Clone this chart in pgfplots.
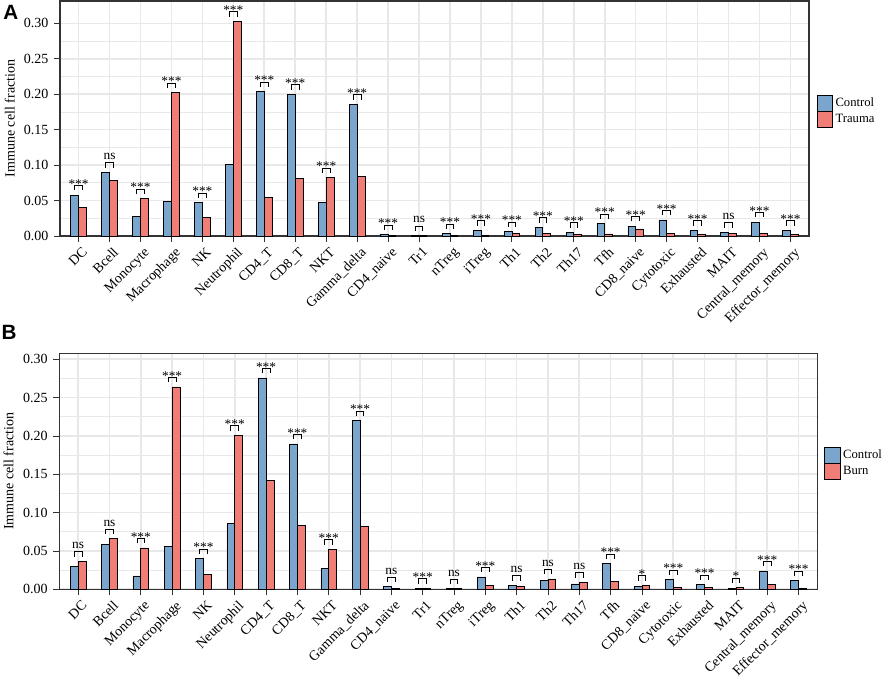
\documentclass[border=0pt]{standalone}
\usepackage{fontspec}
\setmainfont{Liberation Serif}
\newfontfamily\lsans{Liberation Sans}
\usepackage{pgfplots}
\usepackage{pgfplotstable}
\pgfplotsset{compat=1.18}
\definecolor{cblue}{RGB}{122,166,206}
\definecolor{cred}{RGB}{240,126,118}
\definecolor{gframe}{RGB}{51,51,51}
\definecolor{ggrid}{RGB}{232,232,232}
\newcommand\tfont{\fontsize{10.5}{12}\selectfont}
\newcommand\sfont{\fontsize{10}{12}\selectfont}
\newcommand\lfont{\fontsize{9.5}{11}\selectfont}
\protected\def\sss{\raisebox{-4.3pt}{***}}
\protected\def\sone{\raisebox{-4.3pt}{*}}
\protected\def\nsl{ns}
\pgfdeclareplotmark{brk}{%
 \pgfpathmoveto{\pgfpoint{-2.9pt}{3.4pt}}%
 \pgfpathlineto{\pgfpoint{-2.9pt}{7.1pt}}%
 \pgfpathlineto{\pgfpoint{2.9pt}{7.1pt}}%
 \pgfpathlineto{\pgfpoint{2.9pt}{3.4pt}}%
 \pgfusepathqstroke}

\pgfplotstableread{
x ctrl case lab
0 0.0578 0.0409 \sss
1 0.0898 0.0785 \nsl
2 0.0277 0.0527 \sss
3 0.0489 0.2026 \sss
4 0.0470 0.0259 \sss
5 0.1006 0.3028 \sss
6 0.2036 0.0545 \sss
7 0.1998 0.0809 \sss
8 0.0470 0.0827 \sss
9 0.1857 0.0837 \sss
10 0.0020 0.0004 \sss
11 0.0008 0.0008 \nsl
12 0.0036 0.0008 \sss
13 0.0080 0.0016 \sss
14 0.0064 0.0034 \sss
15 0.0125 0.0040 \sss
16 0.0052 0.0026 \sss
17 0.0174 0.0030 \sss
18 0.0141 0.0099 \sss
19 0.0226 0.0033 \sss
20 0.0080 0.0024 \sss
21 0.0052 0.0042 \nsl
22 0.0197 0.0042 \sss
23 0.0080 0.0024 \sss
}\tabA

\pgfplotstableread{
x ctrl case lab
0 0.0300 0.0365 \nsl
1 0.0587 0.0661 \nsl
2 0.0174 0.0539 \sss
3 0.0561 0.2639 \sss
4 0.0400 0.0191 \sss
5 0.0861 0.2009 \sss
6 0.2757 0.1417 \sss
7 0.1896 0.0830 \sss
8 0.0270 0.0522 \sss
9 0.2200 0.0817 \sss
10 0.0035 0.0009 \nsl
11 0.0009 0.0013 \sss
12 0.0009 0.0009 \nsl
13 0.0161 0.0052 \sss
14 0.0052 0.0043 \nsl
15 0.0113 0.0135 \nsl
16 0.0070 0.0091 \nsl
17 0.0335 0.0104 \sss
18 0.0039 0.0052 \sone
19 0.0126 0.0026 \sss
20 0.0061 0.0026 \sss
21 0.0009 0.0022 \sone
22 0.0239 0.0061 \sss
23 0.0113 0.0009 \sss
}\tabB

\pgfplotsset{
 mybar/.style={
  scale only axis,
  set layers=standard,
  clip=false,
  xmin=-0.6, xmax=23.6, ymin=0,
  xtick={0,...,23},
  xticklabels={DC,Bcell,Monocyte,Macrophage,NK,Neutrophil,CD4\_T,CD8\_T,NKT,Gamma\_delta,CD4\_naive,Tr1,nTreg,iTreg,Th1,Th2,Th17,Tfh,CD8\_naive,Cytotoxic,Exhausted,MAIT,Central\_memory,Effector\_memory},
  x tick label style={rotate=45, anchor=north east, font=\tfont, inner sep=1pt, xshift=3pt},
  xticklabel shift=3.8pt,
  ytick={0,0.05,0.1,0.15,0.2,0.25,0.3},
  minor ytick={0.025,0.075,0.125,0.175,0.225,0.275},
  scaled y ticks=false,
  y tick label style={font=\tfont, inner sep=1pt},
  yticklabel shift=3pt,
  yticklabel style={/pgf/number format/fixed, /pgf/number format/fixed zerofill, /pgf/number format/precision=2, /pgf/number format/assume math mode=true},
  xtick pos=bottom, ytick pos=left,
  tick align=outside, major tick length=4.5pt, minor tick length=0pt,
  tick style={gframe, line width=0.6pt},
  xmajorgrids, ymajorgrids, yminorgrids,
  major grid style={ggrid, line width=1.2pt},
  minor grid style={ggrid, line width=0.6pt},
  axis line style={gframe, line width=0.8pt},
  ylabel={Immune cell fraction},
  every axis y label/.style={at={(axis description cs:-0.067,0.5)}, rotate=90, anchor=center, font=\tfont},
  legend cell align=left,
  legend style={draw=none, fill=none, anchor=west, inner sep=0pt, row sep=0pt, font=\lfont, /tikz/every even column/.append style={column sep=6pt}},
  legend image code/.code={\draw[#1, line width=0.5pt] (0pt,-6pt) rectangle (11.7pt,6pt);},
 },
 ctrlbar/.style={ybar, bar width=0.25, bar shift=-0.125, fill=cblue, draw=black, line width=0.5pt},
 casebar/.style={ybar, bar width=0.25, bar shift=0.125, fill=cred, draw=black, line width=0.5pt},
 brkplot/.style={only marks, mark=brk, black, line width=0.6pt, forget plot, nodes near coords, point meta=explicit symbolic,
   every node near coord/.append style={anchor=base, yshift=9.4pt, inner sep=0pt, font=\sfont, black}},
}

\begin{document}
\begin{tikzpicture}
\begin{axis}[mybar, at={(45pt,335.25pt)}, anchor=south west,
  width=561.75pt, height=176.25pt, ymax=0.3315,
  legend style={at={(1,0.53)}, xshift=5.5pt}]
\addplot[ctrlbar] table[x=x,y=ctrl]{\tabA};
\addplot[casebar] table[x=x,y=case]{\tabA};
\addplot[brkplot] table[x=x, y expr={max(\thisrow{ctrl},\thisrow{case})}, meta=lab]{\tabA};
\legend{Control,Trauma}
\end{axis}
\begin{axis}[mybar, at={(44.5pt,70.3pt)}, anchor=south west,
  width=568.5pt, height=177pt, ymax=0.3078,
  legend style={at={(1,0.534)}, xshift=5pt}]
\addplot[ctrlbar] table[x=x,y=ctrl]{\tabB};
\addplot[casebar] table[x=x,y=case]{\tabB};
\addplot[brkplot] table[x=x, y expr={max(\thisrow{ctrl},\thisrow{case})}, meta=lab]{\tabB};
\legend{Control,Burn}
\end{axis}
\node[anchor=base west, inner sep=0pt, font=\lsans\bfseries\fontsize{15.5}{16}\selectfont] at (2.25pt,497.25pt) {A};
\node[anchor=base west, inner sep=0pt, font=\lsans\bfseries\fontsize{15.5}{16}\selectfont] at (1pt,257.25pt) {B};
\pgfresetboundingbox
\useasboundingbox (0pt,0pt) rectangle (664.5pt,512.25pt);
\end{tikzpicture}
\end{document}
